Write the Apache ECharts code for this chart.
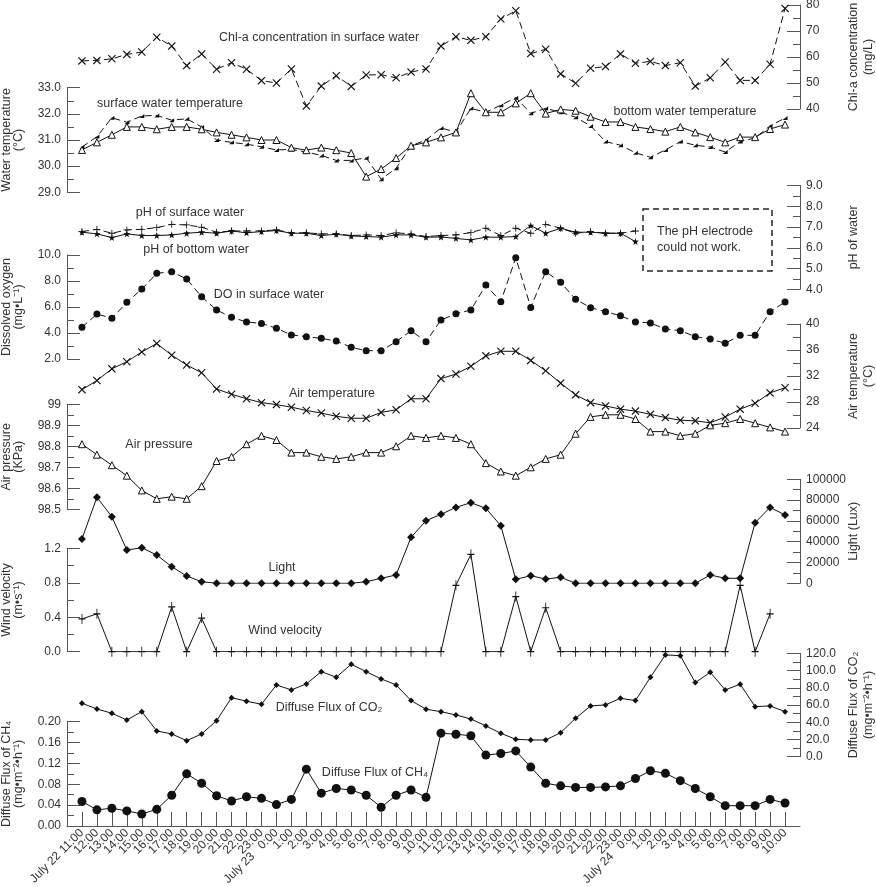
<!DOCTYPE html>
<html>
<head>
<meta charset="utf-8">
<script src="https://cdn.jsdelivr.net/npm/echarts@6/dist/echarts.min.js"></script>
<style>
  html, body { margin: 0; padding: 0; background: #fff; }
  #chart { width: 876px; height: 887px; }
</style>
</head>
<body>
<div id="chart"></div>
<script>
// time axis: July 22 11:00 -> July 24 10:00, hourly
const timeLabels = [
  'July 22 11:00', '12:00', '13:00', '14:00', '15:00', '16:00', '17:00', '18:00', '19:00', '20:00', '21:00', '22:00', '23:00',
  'July 23   0:00', '1:00', '2:00', '3:00', '4:00', '5:00', '6:00', '7:00', '8:00', '9:00', '10:00', '11:00',
  '12:00', '13:00', '14:00', '15:00', '16:00', '17:00', '18:00', '19:00', '20:00', '21:00', '22:00', '23:00',
  'July 24   0:00', '1:00', '2:00', '3:00', '4:00', '5:00', '6:00', '7:00', '8:00', '9:00', '10:00'
];

const chlA = [58.5, 58.7, 59.3, 61.0, 61.9, 67.6, 64.2, 56.7, 61.2, 55.3, 57.8, 55.3, 50.9, 50.0, 55.4, 41.2,
  48.8, 52.8, 48.7, 53.1, 53.2, 52.0, 54.2, 55.4, 64.2, 67.8, 66.4, 67.8, 74.6, 77.8, 61.3, 63.0,
  53.5, 49.9, 55.7, 56.3, 61.2, 57.6, 58.3, 56.7, 57.8, 48.8, 52.0, 58.1, 51.0, 51.0, 57.2, 78.7];

const surfaceTemp = [30.73, 31.13, 31.85, 31.68, 31.92, 31.94, 31.76, 31.81, 31.50, 31.00, 30.91, 30.84, 30.74, 30.62, 30.64, 30.54,
  30.41, 30.22, 30.22, 30.32, 29.50, 29.92, 30.78, 31.00, 31.46, 31.30, 32.21, 32.06, 32.33, 32.62, 32.02, 32.21,
  32.06, 31.87, 31.54, 30.94, 30.80, 30.51, 30.34, 30.62, 30.94, 30.80, 30.73, 30.54, 30.94, 31.08, 31.54, 31.84];

const bottomTemp = [30.62, 30.91, 31.20, 31.50, 31.50, 31.41, 31.50, 31.50, 31.41, 31.29, 31.20, 31.10, 31.00, 31.00, 30.71, 30.61,
  30.71, 30.61, 30.50, 29.60, 29.89, 30.31, 30.78, 30.91, 31.10, 31.29, 32.79, 32.06, 32.06, 32.40, 32.79, 32.01,
  32.17, 32.12, 31.89, 31.69, 31.69, 31.50, 31.42, 31.32, 31.50, 31.29, 31.11, 30.91, 31.11, 31.11, 31.42, 31.59];

const phSurface = [6.78, 6.89, 6.70, 6.86, 6.89, 6.97, 7.13, 7.10, 6.99, 6.75, 6.81, 6.81, 6.81, 6.86, 6.72, 6.72,
  6.67, 6.67, 6.59, 6.62, 6.59, 6.72, 6.67, 6.54, 6.59, 6.62, 6.73, 6.94, 6.59, 6.94, 6.70, 7.13,
  6.94, 6.70, 6.78, 6.70, 6.70, 6.81, null, null, null, null, null, null, null, null, null, null];

const phBottom = [6.75, 6.67, 6.49, 6.67, 6.59, 6.59, 6.62, 6.70, 6.75, 6.70, 6.81, 6.72, 6.78, 6.83, 6.70, 6.70,
  6.59, 6.65, 6.57, 6.54, 6.51, 6.62, 6.62, 6.51, 6.52, 6.45, 6.38, 6.51, 6.51, 6.54, 7.07, 6.70,
  6.94, 6.75, 6.75, 6.70, 6.70, 6.30, null, null, null, null, null, null, null, null, null, null];

const dissolvedO2 = [4.44, 5.46, 5.13, 6.36, 7.38, 8.59, 8.72, 8.15, 6.79, 5.77, 5.21, 4.85, 4.74, 4.36, 3.85, 3.72,
  3.59, 3.38, 2.90, 2.64, 2.64, 3.33, 4.18, 3.33, 5.00, 5.48, 5.77, 7.69, 6.41, 9.79, 5.97, 8.72,
  7.90, 6.59, 5.95, 5.64, 5.33, 4.85, 4.77, 4.31, 4.18, 3.72, 3.54, 3.21, 3.82, 3.82, 5.64, 6.38];

const airTemp = [29.9, 31.3, 33.1, 34.2, 35.7, 37.0, 35.2, 33.7, 32.5, 30.0, 29.2, 28.5, 27.9, 27.6, 27.2, 26.7,
  26.3, 25.8, 25.5, 25.5, 26.4, 26.8, 28.5, 28.5, 31.6, 32.3, 33.5, 35.1, 35.8, 35.8, 34.4, 32.8,
  30.9, 29.1, 27.9, 27.4, 26.9, 26.6, 26.1, 25.6, 25.2, 25.1, 24.8, 25.7, 26.9, 27.8, 29.4, 30.2];

const airPressure = [98.81, 98.76, 98.71, 98.66, 98.59, 98.55, 98.56, 98.55, 98.61, 98.73, 98.75, 98.81, 98.85, 98.83, 98.77, 98.77,
  98.75, 98.74, 98.75, 98.77, 98.77, 98.80, 98.85, 98.84, 98.85, 98.84, 98.81, 98.72, 98.68, 98.66, 98.70, 98.74,
  98.76, 98.86, 98.94, 98.95, 98.95, 98.93, 98.87, 98.87, 98.85, 98.86, 98.90, 98.91, 98.93, 98.91, 98.89, 98.87];

const light = [42600, 82700, 64000, 32000, 34200, 27200, 16000, 7000, 1500, 0, 0, 0, 0, 0, 0, 0,
  0, 0, 0, 1500, 4800, 8000, 44200, 60200, 66300, 73000, 77500, 72100, 55400, 3800, 7300, 4100,
  5800, 0, 0, 0, 0, 0, 0, 0, 0, 0, 8000, 4800, 4800, 58300, 73000, 65700];

const wind = [0.38, 0.44, 0, 0, 0, 0, 0.52, 0, 0.39, 0, 0, 0, 0, 0, 0, 0,
  0, 0, 0, 0, 0, 0, 0, 0, 0, 0.77, 1.13, 0, 0, 0.64, 0, 0.51,
  0, 0, 0, 0, 0, 0, 0, 0, 0, 0, 0, 0, 0.77, 0, 0.44, null];

const co2Flux = [62.0, 55.4, 50.4, 42.6, 52.3, 29.9, 26.4, 18.6, 26.4, 41.8, 68.5, 64.4, 60.9, 83.3, 77.5, 84.5,
  98.7, 92.2, 107.3, 98.7, 90.3, 83.3, 65.1, 55.1, 52.3, 48.4, 43.8, 35.7, 27.2, 20.2, 19.4, 19.4,
  27.9, 44.6, 58.9, 60.1, 67.8, 65.1, 92.2, 118.1, 117.3, 86.0, 98.0, 77.5, 84.1, 58.1, 58.9, 52.3];

const ch4Flux = [0.047, 0.031, 0.034, 0.029, 0.023, 0.032, 0.059, 0.100, 0.082, 0.058, 0.048, 0.056, 0.053, 0.041, 0.051, 0.109,
  0.063, 0.072, 0.069, 0.059, 0.036, 0.059, 0.069, 0.055, 0.178, 0.176, 0.173, 0.136, 0.139, 0.144, 0.113, 0.082,
  0.077, 0.074, 0.074, 0.075, 0.077, 0.091, 0.106, 0.101, 0.087, 0.072, 0.056, 0.039, 0.039, 0.039, 0.051, 0.044];

// one empty slot on each side of the time axis
const cats = [''].concat(timeLabels, ['']);
const pad = arr => [null].concat(arr, [null]);

const FONT = '"Liberation Sans", Arial, Helvetica, sans-serif';
const TXT = '#333';
const AX = '#555';
const INK = '#111';

const SYM = {
  cross: 'path://M1,0L5,4L9,0L10,1L6,5L10,9L9,10L5,6L1,10L0,9L4,5L0,1Z',
  plus: 'path://M4.4,0H5.6V4.4H10V5.6H5.6V10H4.4V5.6H0V4.4H4.4Z',
  star: 'path://M5,0L6.2,3.6L10,3.7L7,6L8.1,9.8L5,7.6L1.9,9.8L3,6L0,3.7L3.8,3.6Z',
  flag: 'path://M0,10L10,10L10,0Z'
};

// grid per axis (pixel top / height of each axis)
const panels = [
  { top: 5, h: 104 },      // 0 Chl-a (right)
  { top: 87.7, h: 104.6 }, // 1 water temperature (left)
  { top: 185.5, h: 103.8 },// 2 pH (right)
  { top: 255, h: 104 },    // 3 DO (left)
  { top: 324, h: 104 },    // 4 air temp (right)
  { top: 404.3, h: 105 },  // 5 air pressure (left)
  { top: 479.3, h: 104 },  // 6 light (right)
  { top: 548.3, h: 103.4 },// 7 wind (left)
  { top: 653.3, h: 103.4 },// 8 CO2 (right)
  { top: 721.7, h: 104.3 } // 9 CH4 (left)
];

function yAx(idx, pos, min, max, interval, fmt, name) {
  const left = pos === 'left';
  return {
    type: 'value', gridIndex: idx, position: pos, min: min, max: max, interval: interval,
    name: name, nameLocation: 'middle', nameRotate: 90, nameGap: left ? 42 : 46, nameMoveOverlap: false,
    nameTextStyle: { color: TXT, fontSize: 12.5, fontFamily: FONT, lineHeight: left ? 12 : 15 },
    axisLine: { show: true, lineStyle: { color: AX, width: 1 } },
    axisTick: { show: true, inside: true, length: 13, lineStyle: { color: AX } },
    minorTick: { show: true, splitNumber: 2, length: 7, lineStyle: { color: AX } },
    axisLabel: { color: TXT, fontSize: 12, fontFamily: FONT, margin: 6, formatter: fmt },
    splitLine: { show: false }
  };
}

const fix = d => v => v.toFixed(d);

const yAxes = [
  yAx(0, 'right', 40, 80, 10, fix(0), 'Chl-a concentration\n(mg/L)'),
  yAx(1, 'left', 29, 33, 1, fix(1), 'Water temperature\n(°C)'),
  yAx(2, 'right', 4, 9, 1, fix(1), 'pH of water'),
  yAx(3, 'left', 2, 10, 2, fix(1), 'Dissolved oxygen\n(mg•L⁻¹)'),
  yAx(4, 'right', 24, 40, 4, fix(0), 'Air temperature\n(°C)'),
  yAx(5, 'left', 98.5, 99, 0.1, v => (Math.abs(v - 99) < 1e-6 ? '99' : v.toFixed(1)), 'Air pressure\n(KPa)'),
  yAx(6, 'right', 0, 100000, 20000, fix(0), 'Light (Lux)'),
  yAx(7, 'left', 0, 1.2, 0.4, fix(1), 'Wind velocity\n(m•s⁻¹)'),
  yAx(8, 'right', 0, 120, 20, fix(1), 'Diffuse Flux of CO₂\n(mg•m⁻²•h⁻¹)'),
  yAx(9, 'left', 0, 0.2, 0.04, fix(2), 'Diffuse Flux of CH₄\n(mg•m⁻²•h⁻¹)')
];

const xAxes = panels.map((p, k) => ({
  type: 'category', gridIndex: k, data: cats, boundaryGap: false, show: k === 9,
  axisLine: { show: true, lineStyle: { color: AX } },
  axisTick: { show: true, inside: true, length: 14, lineStyle: { color: AX },
    interval: i => i > 0 && i < cats.length - 1 },
  axisLabel: { interval: 0, rotate: 45, color: TXT, fontSize: 12, fontFamily: FONT, margin: 5 },
  splitLine: { show: false }
}));

function line(k, data, symbol, size, dashed, hollow) {
  return {
    type: 'line', xAxisIndex: k, yAxisIndex: k, data: pad(data),
    symbol: symbol, symbolSize: size, showAllSymbol: true, connectNulls: false,
    lineStyle: { color: INK, width: 1, type: dashed ? [7, 4] : 'solid' },
    itemStyle: hollow ? { color: '#fff', borderColor: INK, borderWidth: 1 } : { color: INK },
    emphasis: { disabled: true }
  };
}

const series = [
  line(0, chlA, SYM.cross, 8, true),
  line(1, surfaceTemp, SYM.flag, [5, 4], true),
  line(1, bottomTemp, 'triangle', 7, false, true),
  line(2, phSurface, SYM.plus, 7, true),
  line(2, phBottom, SYM.star, 7, false),
  line(3, dissolvedO2, 'circle', 7, true),
  line(4, airTemp, SYM.cross, 8, false),
  line(5, airPressure, 'triangle', 7, false, true),
  line(6, light, 'diamond', 8, false),
  line(7, wind, SYM.plus, [7, 10], false),
  line(8, co2Flux, 'diamond', 6, false),
  line(9, ch4Flux, 'circle', 9, false)
];

// in-plot labels
const notes = [
  ['Chl-a concentration in surface water', 319, 38],
  ['surface water temperature', 170, 104],
  ['bottom water temperature', 685, 112],
  ['pH of surface water', 190, 213],
  ['pH of bottom water', 196, 250],
  ['DO in surface water', 269, 295],
  ['Air temperature', 332, 394],
  ['Air pressure', 159, 445],
  ['Light', 282, 568],
  ['Wind velocity', 285, 631],
  ['Diffuse Flux of CO₂', 329, 708],
  ['Diffuse Flux of CH₄', 375, 773]
];

const graphic = notes.map(n => ({
  type: 'text', silent: true,
  style: { text: n[0], x: n[1], y: n[2], textAlign: 'center', textVerticalAlign: 'middle',
    align: 'center', verticalAlign: 'middle', fill: TXT, fontSize: 12.5, fontFamily: FONT }
}));
graphic.push({
  type: 'rect', silent: true, shape: { x: 643, y: 209, width: 129, height: 62 },
  style: { fill: 'none', stroke: '#222', lineWidth: 1.5, lineDash: [6, 4] }
});
graphic.push({
  type: 'text', silent: true,
  style: { text: 'The pH electrode\ncould not work.', x: 657, y: 240, textAlign: 'left', textVerticalAlign: 'middle',
    align: 'left', verticalAlign: 'middle', fill: TXT, fontSize: 12.5, fontFamily: FONT, lineHeight: 16 }
});

const chart = echarts.init(document.getElementById('chart'));
chart.setOption({
  animation: false,
  backgroundColor: '#fff',
  textStyle: { fontFamily: FONT },
  grid: panels.map(p => ({ left: 67, right: 76, top: p.top, height: p.h, containLabel: false, outerBoundsMode: 'none' })),
  xAxis: xAxes,
  yAxis: yAxes,
  series: series,
  graphic: graphic
});
</script>
</body>
</html>
